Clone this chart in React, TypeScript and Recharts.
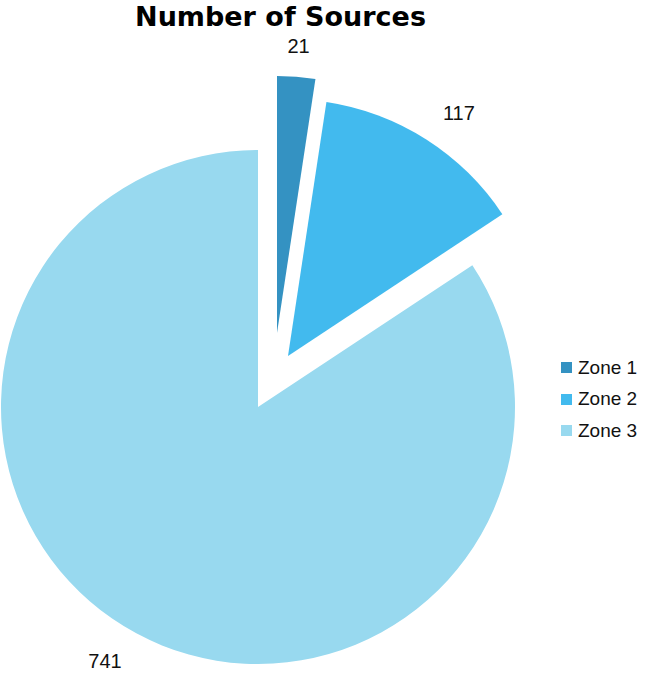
import React from "react";
import { PieChart, Pie, Cell, Legend } from "recharts";

const zones = ["Zone 1", "Zone 2", "Zone 3"];
const sources = [21, 117, 741];
const colors = ["#3492C2", "#42BAEE", "#98D9EF"];
// explosion centres of each slice (px)
const centersX = [277, 288, 258];
const centersY = [333, 356, 407];

const data = zones.map((name, i) => ({ name, value: sources[i] }));

const RAD = Math.PI / 180;

const makeLabel = (owner: number) => (props: any) => {
  const { cx, cy, midAngle, outerRadius, index, value } = props;
  if (index !== owner) return null;
  const r = outerRadius + 31;
  const cos = Math.cos(-midAngle * RAD);
  const x = cx + r * cos;
  const y = cy + r * Math.sin(-midAngle * RAD);
  const anchor = Math.abs(cos) < 0.15 ? "middle" : cos > 0 ? "start" : "end";
  return (
    <text
      x={x}
      y={y}
      textAnchor={anchor}
      dominantBaseline="central"
      fontFamily="'Liberation Sans', Arial, sans-serif"
      fontSize={20}
      fill="#111"
    >
      {value}
    </text>
  );
};

const LegendContent = () => (
  <div style={{ fontFamily: "'Liberation Sans', Arial, sans-serif", fontSize: 19, color: "#111" }}>
    {zones.map((z, i) => (
      <div key={z} style={{ height: 31.5, display: "flex", alignItems: "center" }}>
        <span style={{ display: "inline-block", width: 11, height: 11, background: colors[i], marginRight: 6 }} />
        <span>{z}</span>
      </div>
    ))}
  </div>
);

export default function App() {
  return (
    <div style={{ position: "absolute", left: 0, top: 0, width: 646, height: 675, background: "#fff" }}>
      <div
        style={{
          position: "absolute",
          left: 0,
          top: 2,
          width: 561,
          textAlign: "center",
          fontFamily: "'DejaVu Sans', Verdana, sans-serif",
          fontWeight: "bold",
          fontSize: 27,
          lineHeight: "30px",
          color: "#000",
          zIndex: 2,
        }}
      >
        Number of Sources
      </div>
      <PieChart width={646} height={675} margin={{ top: 0, right: 0, bottom: 0, left: 0 }}>
        {[0, 1, 2].map((owner) => (
          <Pie
            key={owner}
            data={data}
            dataKey="value"
            nameKey="name"
            cx={centersX[owner]}
            cy={centersY[owner]}
            innerRadius={0}
            outerRadius={257}
            startAngle={90}
            endAngle={-270}
            stroke="none"
            isAnimationActive={false}
            labelLine={false}
            label={makeLabel(owner)}
            legendType="none"
          >
            {data.map((d, i) => (
              <Cell key={d.name} fill={i === owner ? colors[i] : "transparent"} stroke="none" />
            ))}
          </Pie>
        ))}
        <Legend
          layout="vertical"
          align="right"
          verticalAlign="middle"
          content={<LegendContent />}
          wrapperStyle={{ position: "absolute", left: 561, top: 352, width: 85 }}
        />
      </PieChart>
    </div>
  );
}
